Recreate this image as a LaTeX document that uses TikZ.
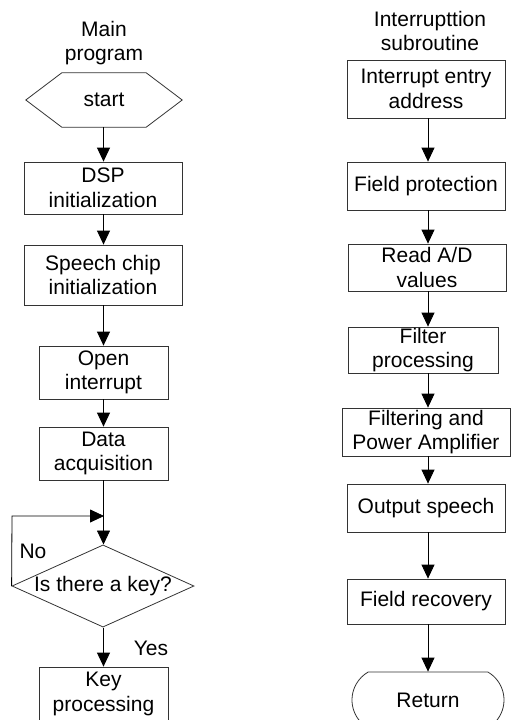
\documentclass[tikz,border=0pt]{standalone}
\usepackage{fontspec}
\setmainfont{Liberation Sans}
\usetikzlibrary{arrows.meta,shapes.geometric,shapes.misc,calc}

\begin{document}
\begin{tikzpicture}[x=1pt,y=-1pt,
  every node/.style={font=\fontsize{21}{24.5}\selectfont, align=center, inner sep=0pt},
  box/.style={draw=black!80, line width=0.8pt, rectangle},
  title/.style={},
  arr/.style={draw=black, line width=0.8pt, -{Triangle[length=14pt,width=13pt]}},
  plain/.style={draw=black, line width=0.8pt}
]
\useasboundingbox (0,0) rectangle (511,720);

% ---------- main program ----------
\coordinate (lc) at (103.5,0);
\node[title] (tmain) at (104,43) {Main\\program};

\node[minimum width=156pt, minimum height=54pt] (start) at (104,100) {start};
\draw[black!80, line width=0.8pt]
  (start.west) -- ($(start.north west)+(36,0)$) -- ($(start.north east)+(-36,0)$)
  -- (start.east) -- ($(start.south east)+(-36,0)$) -- ($(start.south west)+(36,0)$)
  -- cycle;

\node[box, minimum width=158pt, minimum height=52pt] (dsp) at (103,188) {DSP\\initialization};
\node[box, minimum width=158pt, minimum height=60pt] (chip) at (103,275) {Speech chip\\initialization};
\node[box, minimum width=129pt, minimum height=53pt] (open) at (103.5,372.5) {Open\\interrupt};
\node[box, minimum width=129pt, minimum height=53pt] (acq) at (103.5,453.5) {Data\\acquisition};
\node[diamond, draw=black!80, line width=0.8pt, aspect=2.2,
      minimum width=182pt, minimum height=82pt] (key) at (103,586) {Is there a key?};
\node[box, minimum width=129pt, minimum height=54pt] (proc) at (103.5,694) {Key\\processing};

\coordinate (loopL) at (12,516);
\coordinate (loopR) at (104,516);

\draw[arr] (start.south -| lc) -- (dsp.north -| lc);
\draw[arr] (dsp.south -| lc) -- (chip.north -| lc);
\draw[arr] (chip.south -| lc) -- (open.north -| lc);
\draw[arr] (open.south -| lc) -- (acq.north -| lc);
\draw[arr] (acq.south -| lc) -- (key.north -| lc);
\draw[arr] (key.west) -- (loopL) -- (loopR);
\draw[arr] (key.south -| lc) -- (proc.north -| lc);

\node (no) at (33,551) {No};
\node (yes) at (151,648) {Yes};

% ---------- interrupt subroutine ----------
\coordinate (rc) at (428,0);
\node[title] (tsub) at (430,31) {Interrupttion\\subroutine};

\node[box, minimum width=158pt, minimum height=58pt] (entry) at (426,89) {Interrupt entry\\address};
\node[box, minimum width=158pt, minimum height=48pt] (prot) at (426,186) {Field protection};
\node[box, minimum width=158pt, minimum height=47pt] (ad) at (427,267.5) {Read A/D\\values};
\node[box, minimum width=150pt, minimum height=46pt] (filt) at (423,350) {Filter\\processing};
\node[box, minimum width=168pt, minimum height=48pt] (amp) at (426,432) {Filtering and\\Power Amplifier};
\node[box, minimum width=158pt, minimum height=48pt] (out) at (426,508) {Output speech};
\node[box, minimum width=158pt, minimum height=45pt] (rec) at (426,601.5) {Field recovery};
\node[rounded rectangle, rounded rectangle arc length=120, draw=black!80, line width=0.8pt,
      minimum width=152pt, minimum height=56pt] (ret) at (428,700) {Return};

\draw[arr] (entry.south -| rc) -- (prot.north -| rc);
\draw[arr] (prot.south -| rc) -- (ad.north -| rc);
\draw[arr] (ad.south -| rc) -- (filt.north -| rc);
\draw[arr] (filt.south -| rc) -- (amp.north -| rc);
\draw[arr] (amp.south -| rc) -- (out.north -| rc);
\draw[arr] (out.south -| rc) -- (rec.north -| rc);
\draw[arr] (rec.south -| rc) -- (ret.north -| rc);
\end{tikzpicture}
\end{document}
